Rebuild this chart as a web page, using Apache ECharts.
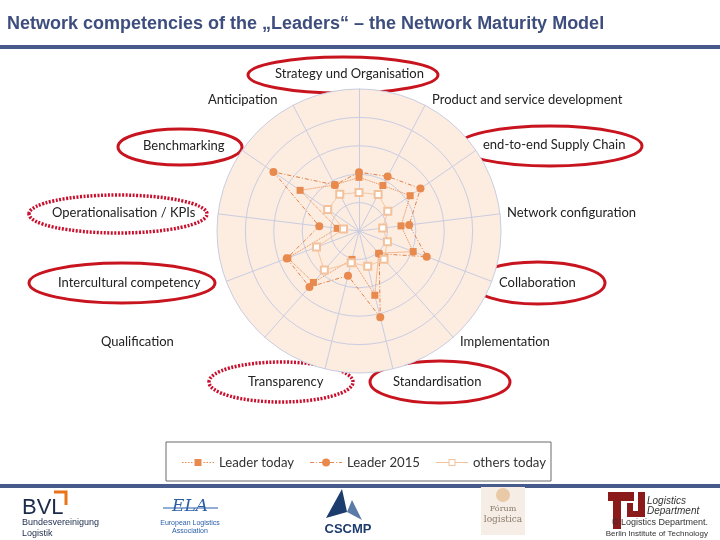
<!DOCTYPE html>
<html>
<head>
<meta charset="utf-8">
<style>
  html, body { margin: 0; padding: 0; background: #fff; }
  #chart { width: 720px; height: 540px; }
</style>
<script src="https://cdn.jsdelivr.net/npm/echarts@6/dist/echarts.min.js"></script>
</head>
<body>
<div id="chart"></div>
<script>
// competencies, clockwise from the top
const competencies = [
  'Strategy und Organisation', 'Product and service development', 'end-to-end Supply Chain',
  'Network configuration', 'Collaboration', 'Implementation', 'Standardisation',
  'Transparency', 'Qualification', 'Intercultural competency', 'Operationalisation / KPIs',
  'Benchmarking', 'Anticipation'
];
const leaderToday = [1.89, 1.81, 2.19, 1.49, 2.04, 1.05, 2.33, 1.03, 2.42, 2.68, 0.77, 2.52, 1.83];
const leader2015 = [2.07, 2.17, 2.63, 1.78, 2.55, 1.07, 3.13, 1.62, 2.63, 2.72, 1.41, 3.66, 1.83];
const othersToday = [1.36, 1.45, 1.23, 0.84, 1.07, 1.33, 1.28, 1.15, 1.84, 1.60, 0.55, 1.34, 1.46];
const seriesNames = ['Leader today', 'Leader 2015', 'others today'];
const dottedHighlight = ['Operationalisation / KPIs', 'Transparency'];

// label layout on the slide (left x, middle y)
const labelPos = [
  [275, 74], [432, 100], [483, 145], [507, 213], [499, 283], [460, 342], [393, 382],
  [248, 382], [101, 342], [58, 283], [52, 213], [143, 146], [208, 100]
];
// red ellipse round the highlighted labels [cx, cy, rx, ry]
const ringPos = {
  'Strategy und Organisation': [343, 75, 95, 18],
  'Benchmarking': [180, 147, 62, 18],
  'end-to-end Supply Chain': [550, 146, 92, 20],
  'Operationalisation / KPIs': [118, 214, 89, 19],
  'Intercultural competency': [122, 283, 93, 20],
  'Collaboration': [538, 283, 67, 21],
  'Transparency': [281, 382, 72, 20],
  'Standardisation': [440, 382, 70, 21]
};

// legend icons: line style + marker
const legendIcons = [
  'path://M0,3.5h1.5v1h-1.5z M3,3.5h1.5v1h-1.5z M6,3.5h1.5v1h-1.5z M9,3.5h1.5v1h-1.5z M12.5,0.5h7v7h-7z M21.5,3.5h1.5v1h-1.5z M24.5,3.5h1.5v1h-1.5z M27.5,3.5h1.5v1h-1.5z M30.5,3.5h1.5v1h-1.5z',
  'path://M0,3.5h4v1h-4z M6,3.5h1v1h-1z M9,3.5h3v1h-3z M20,4a4,4 0 1,1 -8,0a4,4 0 1,1 8,0z M20,3.5h4v1h-4z M26,3.5h1v1h-1z M29,3.5h3v1h-3z',
  'path://M0,3.5h12.5v1h-12.5z M12.5,0.5h7v7h-7z M13.5,1.5v5h5v-5z M19.5,3.5h12.5v1h-12.5z'
];

// echarts radar runs counter-clockwise, so flip the order after the first item
const ccw = arr => [arr[0]].concat(arr.slice(1).reverse());

const chart = echarts.init(document.getElementById('chart'));
const labelFont = 'Lato';
const orange = '#E8894D';
const tuRed = '#8B1A1A';

const graphics = [
  { type: 'rect', shape: { x: 0, y: 45, width: 720, height: 4 }, style: { fill: '#475A8C' } },
  { type: 'rect', shape: { x: 0, y: 484, width: 720, height: 4 }, style: { fill: '#475A8C' } },
  { type: 'rect', shape: { x: 166, y: 442, width: 385, height: 39 },
    style: { fill: 'none', stroke: '#6b6b6b', lineWidth: 1 } }
];

competencies.forEach((name, i) => {
  graphics.push({
    type: 'text', x: labelPos[i][0], y: labelPos[i][1],
    style: { text: name, font: '13px ' + labelFont, fill: '#222', verticalAlign: 'middle' }
  });
  const r = ringPos[name];
  if (r) {
    const dotted = dottedHighlight.includes(name);
    graphics.push({
      type: 'ellipse', shape: { cx: r[0], cy: r[1], rx: r[2], ry: r[3] },
      style: { fill: 'none', stroke: dotted ? '#C8102E' : '#C8141E', lineWidth: dotted ? 3.5 : 3,
        lineDash: dotted ? [2, 1.5] : null }
    });
  }
});

// logos strip
graphics.push(
  { type: 'text', x: 22, y: 497, style: { text: 'BVL', font: '22px "Liberation Sans"', fill: '#1C2B4A' } },
  { type: 'polyline', shape: { points: [[54, 492], [66, 492], [66, 505]] },
    style: { stroke: '#E8731A', lineWidth: 3, fill: 'none' } },
  { type: 'text', x: 22, y: 523, style: { text: 'Bundesvereinigung', font: '9px "Liberation Sans Narrow", "Liberation Sans"', fill: '#1C2B4A', verticalAlign: 'middle' } },
  { type: 'text', x: 22, y: 534, style: { text: 'Logistik', font: '9px "Liberation Sans Narrow", "Liberation Sans"', fill: '#1C2B4A', verticalAlign: 'middle' } },

  { type: 'text', x: 190, y: 507, style: { text: 'ELA', font: 'italic 17px "DejaVu Serif"', fill: '#2A5DA8', align: 'center', verticalAlign: 'middle' } },
  { type: 'line', shape: { x1: 163, y1: 508, x2: 218, y2: 508 }, style: { stroke: '#2A5DA8', lineWidth: 1 } },
  { type: 'text', x: 190, y: 523, style: { text: 'European Logistics', font: '7px "Liberation Sans"', fill: '#2A5DA8', align: 'center', verticalAlign: 'middle' } },
  { type: 'text', x: 190, y: 531, style: { text: 'Association', font: '7px "Liberation Sans"', fill: '#2A5DA8', align: 'center', verticalAlign: 'middle' } },

  { type: 'polygon', shape: { points: [[342, 489], [326, 518], [347, 512]] }, style: { fill: '#1D3C6E' } },
  { type: 'polygon', shape: { points: [[347, 512], [362, 520], [352, 500]] }, style: { fill: '#5A7BA8' } },
  { type: 'text', x: 348, y: 529, style: { text: 'CSCMP', font: 'bold 13px "Liberation Sans"', fill: '#1D3C6E', align: 'center', verticalAlign: 'middle' } },

  { type: 'rect', shape: { x: 481, y: 487, width: 44, height: 48 }, style: { fill: '#F6EEE6' } },
  { type: 'circle', shape: { cx: 503, cy: 495, r: 7 }, style: { fill: '#E9C9A6' } },
  { type: 'text', x: 503, y: 509, style: { text: 'Fórum', font: '8px "DejaVu Serif"', fill: '#8a7a6a', align: 'center', verticalAlign: 'middle' } },
  { type: 'text', x: 503, y: 520, style: { text: 'logistica', font: '9px "DejaVu Serif"', fill: '#8a7a6a', align: 'center', verticalAlign: 'middle' } },

  // TU block logo
  { type: 'rect', shape: { x: 608, y: 492, width: 26, height: 9 }, style: { fill: tuRed } },
  { type: 'rect', shape: { x: 613, y: 492, width: 8, height: 37 }, style: { fill: tuRed } },
  { type: 'rect', shape: { x: 627, y: 503, width: 6, height: 14 }, style: { fill: tuRed } },
  { type: 'rect', shape: { x: 638, y: 492, width: 7, height: 25 }, style: { fill: tuRed } },
  { type: 'rect', shape: { x: 627, y: 511, width: 18, height: 6 }, style: { fill: tuRed } },
  { type: 'text', x: 647, y: 501, style: { text: 'Logistics', font: 'italic 10px "Liberation Sans"', fill: '#333', verticalAlign: 'middle' } },
  { type: 'text', x: 647, y: 511, style: { text: 'Department', font: 'italic 10px "Liberation Sans"', fill: '#333', verticalAlign: 'middle' } },
  { type: 'text', x: 708, y: 523, style: { text: '© Logistics Department.', font: '9px "Liberation Sans"', fill: '#333', align: 'right', verticalAlign: 'middle' } },
  { type: 'text', x: 708, y: 534, style: { text: 'Berlin Institute of Technology', font: '8px "Liberation Sans"', fill: '#333', align: 'right', verticalAlign: 'middle' } }
);

const option = {
  backgroundColor: '#fff',
  animation: false,
  title: {
    text: 'Network competencies of the \u201eLeaders\u201c \u2013 the Network Maturity Model',
    left: 7,
    top: 15,
    padding: 0,
    textStyle: { fontFamily: 'Liberation Sans', fontWeight: 'bold', fontSize: 18, color: '#3D4E7E' }
  },
  legend: {
    data: seriesNames.map((name, i) => ({ name: name, icon: legendIcons[i] })),
    left: 182,
    top: 456,
    padding: 0,
    itemWidth: 32,
    itemHeight: 8,
    itemGap: 16,
    textStyle: { fontFamily: labelFont, fontSize: 13.2, color: '#333' }
  },
  radar: {
    center: [359, 231],
    radius: 142,
    shape: 'circle',
    splitNumber: 5,
    startAngle: 90,
    indicator: ccw(competencies).map(name => ({ name: name, min: 0, max: 5 })),
    axisName: { show: false },
    axisLine: { lineStyle: { color: '#C9CDE2', width: 1 } },
    splitLine: { lineStyle: { color: '#C9CDE2', width: 1 } },
    splitArea: { areaStyle: { color: ['#FDECE0'] } }
  },
  series: [{
    type: 'radar',
    data: [
      {
        name: seriesNames[0], value: ccw(leaderToday),
        symbol: 'rect', symbolSize: 7,
        itemStyle: { color: orange },
        lineStyle: { color: orange, width: 1, type: 'dotted' }
      },
      {
        name: seriesNames[1], value: ccw(leader2015),
        symbol: 'circle', symbolSize: 8,
        itemStyle: { color: orange },
        lineStyle: { color: '#E0824A', width: 1, type: [4, 2, 1, 2] }
      },
      {
        name: seriesNames[2], value: ccw(othersToday),
        symbol: 'emptyRect', symbolSize: 7,
        itemStyle: { color: '#F2C29C', borderColor: '#F2C29C' },
        lineStyle: { color: '#F4C8A4', width: 1, type: 'solid' }
      }
    ]
  }],
  graphic: graphics
};

chart.setOption(option);
</script>
</body>
</html>
